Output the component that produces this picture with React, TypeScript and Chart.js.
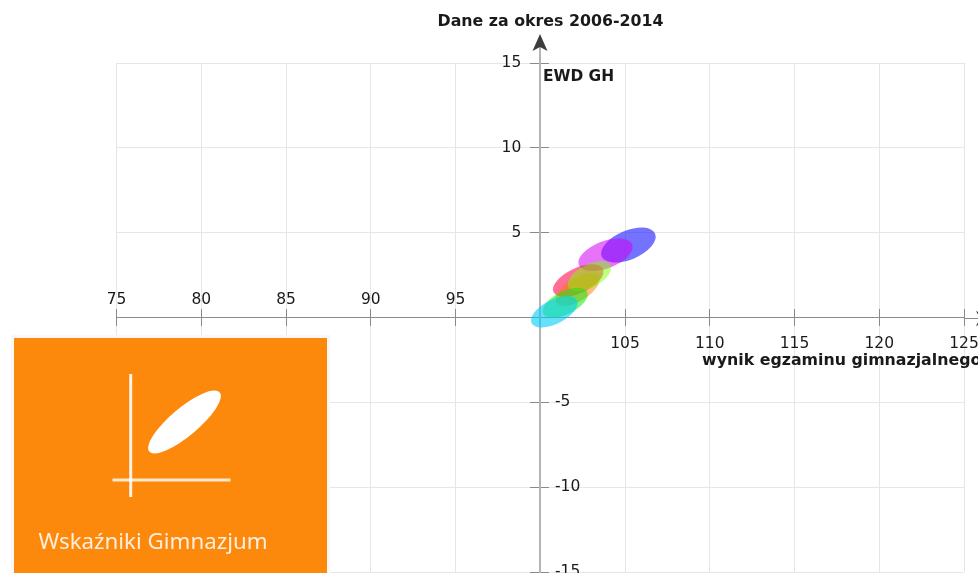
import React, { useEffect, useRef } from "react";
import { Chart, registerables } from "chart.js";

Chart.register(...registerables);

const seriesNames = ["2006-2008", "2007-2009", "2008-2010", "2009-2011", "2010-2012", "2011-2013", "2012-2014"];
// ellipse centres in chart units
const gimnazjalny = [105.2, 103.85, 102.24, 102.2, 102.9, 101.47, 100.83];
const ewd = [4.27, 3.7, 2.18, 1.65, 2.44, 0.87, 0.34];
// semi-axes (exam score units) and tilt (degrees)
const semiMajor = [1.71, 1.69, 1.61, 1.47, 1.4, 1.45, 1.5];
const semiMinor = [0.855, 0.8, 0.74, 0.68, 0.68, 0.68, 0.71];
const tilt = [23, 21, 25, 32, 27.6, 26.5, 27];
const fills = [
  "rgba(40,40,255,0.65)",
  "rgba(210,0,246,0.55)",
  "rgba(255,13,80,0.6)",
  "rgba(245,125,0,0.5)",
  "rgba(125,255,0,0.5)",
  "rgba(20,235,20,0.55)",
  "rgba(0,205,245,0.6)",
];
const xLabelsLeft = [75, 80, 85, 90, 95];
const xLabelsRight = [105, 110, 115, 120, 125];
const yLabelsUpper = [15, 10, 5];
const yLabelsLower = [-5, -10, -15];
const chartTitle = "Dane za okres 2006-2014";
const yName = "EWD GH";
const xName = "wynik egzaminu gimnazjalnego";
const panelName = "Wskaźniki Gimnazjum";

const AXIS = "#8a8a8a";
const GRID = "#e6e6e6";
const TEXT = "#1a1a1a";
const FONT = "'DejaVu Sans'";
const TICK_SIZE = 15.5;

const ellipsesPlugin = {
  id: "ellipses",
  afterDatasetsDraw(chart: any) {
    const { ctx, scales } = chart;
    const unit = Math.abs(scales.x.getPixelForValue(1) - scales.x.getPixelForValue(0));
    ctx.save();
    chart.data.datasets.forEach((ds: any, i: number) => {
      const p = ds.data[0];
      ctx.beginPath();
      ctx.ellipse(
        scales.x.getPixelForValue(p.x),
        scales.y.getPixelForValue(p.y),
        semiMajor[i] * unit,
        semiMinor[i] * unit,
        (-tilt[i] * Math.PI) / 180,
        0,
        Math.PI * 2
      );
      ctx.fillStyle = ds.backgroundColor;
      ctx.fill();
    });
    ctx.restore();
  },
};

const decorPlugin = {
  id: "decor",
  afterDraw(chart: any) {
    const { ctx, scales } = chart;
    const ox = Math.round(scales.x.getPixelForValue(100));
    const oy = Math.round(scales.y.getPixelForValue(0)) + 0.5;
    const top = scales.y.getPixelForValue(15);
    const right = scales.x.getPixelForValue(125);
    ctx.save();
    ctx.strokeStyle = "#b4b4b4";
    ctx.lineWidth = 2;
    ctx.beginPath();
    ctx.moveTo(ox, top - 16);
    ctx.lineTo(ox, top);
    ctx.stroke();
    ctx.strokeStyle = AXIS;
    ctx.lineWidth = 1;
    ctx.beginPath();
    ctx.moveTo(right, oy);
    ctx.lineTo(right + 14, oy);
    ctx.stroke();
    ctx.fillStyle = "#3c3c3c";
    // arrow heads
    ctx.beginPath();
    ctx.moveTo(ox, top - 29);
    ctx.lineTo(ox + 7.5, top - 12);
    ctx.lineTo(ox, top - 16);
    ctx.lineTo(ox - 7.5, top - 12);
    ctx.closePath();
    ctx.fill();
    ctx.beginPath();
    ctx.moveTo(right + 29, oy);
    ctx.lineTo(right + 12, oy - 7.5);
    ctx.lineTo(right + 16, oy);
    ctx.lineTo(right + 12, oy + 7.5);
    ctx.closePath();
    ctx.fill();
    // negative y labels sit to the right of the axis, left aligned
    ctx.fillStyle = TEXT;
    ctx.textBaseline = "middle";
    ctx.textAlign = "left";
    ctx.font = `${TICK_SIZE}px ${FONT}`;
    yLabelsLower.forEach((v) => ctx.fillText(String(v), ox + 15, scales.y.getPixelForValue(v)));
    // names
    ctx.font = `bold 15.8px ${FONT}`;
    ctx.textAlign = "center";
    ctx.fillText(chartTitle, ox + 10.5, top - 41);
    ctx.textAlign = "left";
    ctx.fillText(xName, scales.x.getPixelForValue(109.55), oy + 42);
    ctx.font = `bold 15.4px ${FONT}`;
    ctx.fillText(yName, ox + 3, top + 14);
    ctx.restore();
  },
};

export default function App() {
  const ref = useRef<HTMLCanvasElement>(null);
  useEffect(() => {
    const tickFont = { family: FONT, size: TICK_SIZE };
    const chart = new Chart(ref.current!, {
      type: "scatter",
      data: {
        datasets: seriesNames.map((name, i) => ({
          label: name,
          data: [{ x: gimnazjalny[i], y: ewd[i] }],
          backgroundColor: fills[i],
          pointRadius: 0,
        })),
      },
      options: {
        animation: false,
        responsive: false,
        layout: { padding: { left: 116.5, right: 136, top: 63, bottom: 48 } },
        plugins: { legend: { display: false }, title: { display: false }, tooltip: { enabled: false } },
        scales: {
          x: {
            type: "linear",
            min: 75,
            max: 125,
            position: { y: 0 } as any,
            border: { color: AXIS },
            grid: { color: GRID, tickColor: AXIS, tickLength: 8 },
            ticks: {
              stepSize: 5,
              autoSkip: false,
              maxRotation: 0,
              padding: 9,
              color: TEXT,
              font: tickFont,
              callback: (v: any) => (xLabelsRight.includes(v) ? String(v) : ""),
            },
          },
          xTop: {
            type: "linear",
            axis: "x",
            min: 75,
            max: 125,
            position: { y: 0 } as any,
            border: { display: false },
            grid: { drawOnChartArea: false, tickColor: AXIS, tickLength: -9 },
            ticks: {
              stepSize: 5,
              autoSkip: false,
              maxRotation: 0,
              padding: -18,
              color: TEXT,
              font: tickFont,
              callback: (v: any) => (xLabelsLeft.includes(v) ? String(v) : ""),
            },
          },
          y: {
            type: "linear",
            min: -15,
            max: 15,
            position: { x: 100 } as any,
            border: { color: "#b4b4b4", width: 2 },
            grid: { color: GRID, tickColor: AXIS, tickLength: 9 },
            ticks: { stepSize: 5, autoSkip: false, callback: () => "" },
          },
          yRight: {
            type: "linear",
            axis: "y",
            min: -15,
            max: 15,
            position: { x: 100 } as any,
            border: { display: false },
            grid: { drawOnChartArea: false, tickColor: AXIS, tickLength: -9 },
            ticks: { stepSize: 5, autoSkip: false, callback: () => "" },
          },
          yUpperLabels: {
            type: "linear",
            axis: "y",
            min: -15,
            max: 15,
            position: { x: 98.88 } as any,
            border: { display: false },
            grid: { display: false },
            ticks: {
              stepSize: 5,
              autoSkip: false,
              padding: 0,
              color: TEXT,
              font: tickFont,
              callback: (v: any) => (yLabelsUpper.includes(v) ? String(v) : ""),
            },
          },
        },
      } as any,
      plugins: [ellipsesPlugin, decorPlugin],
    });
    return () => chart.destroy();
  }, []);

  return (
    <div style={{ position: "fixed", left: 0, top: 0, width: 978, height: 573, overflow: "hidden", background: "#fff" }}>
      <canvas ref={ref} width={1100} height={620} style={{ position: "absolute", left: 0, top: 0, width: 1100, height: 620 }} />
      <div
        style={{
          position: "absolute",
          left: 14,
          top: 338,
          width: 313,
          height: 235,
          background: "#fd890c",
          boxShadow: "0 0 0 3px #f8f8f8",
        }}
      >
        <svg width={313} height={235} style={{ position: "absolute", left: 0, top: 0 }}>
          <line x1={116.7} y1={36} x2={116.7} y2={159} stroke="#fff" strokeOpacity={0.9} strokeWidth={3} />
          <line x1={98.5} y1={142} x2={216.5} y2={142} stroke="#fff" strokeOpacity={0.8} strokeWidth={3} />
          <ellipse cx={170.5} cy={84} rx={46} ry={14} fill="#fff" transform="rotate(-40 170.5 84)" />
        </svg>
        <div
          style={{
            position: "absolute",
            left: 24.5,
            top: 189,
            fontFamily: "'Noto Sans'",
            fontSize: 22.3,
            lineHeight: "28px",
            color: "#fdeedd",
            whiteSpace: "nowrap",
          }}
        >
          {panelName}
        </div>
      </div>
    </div>
  );
}
